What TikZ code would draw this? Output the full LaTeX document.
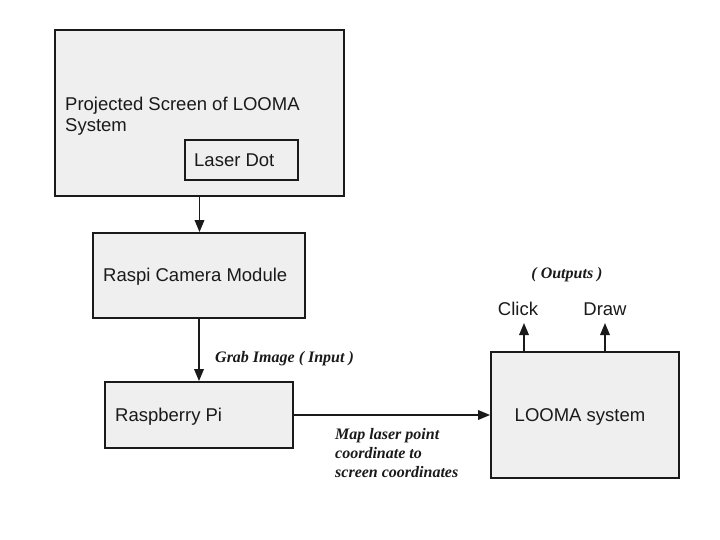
\documentclass[tikz,border=0pt]{standalone}
\usepackage{fontspec}
\setmainfont{Liberation Sans}
\newfontfamily\serifbi{Liberation Serif}
\usetikzlibrary{arrows.meta}
\definecolor{boxfill}{HTML}{EFEFEF}
\definecolor{ink}{HTML}{1A1A1A}
\tikzset{
  box/.style={draw=ink, line width=1.8pt, fill=boxfill, inner sep=0pt},
  lbl/.style={font=\fontsize{18.5}{21.5}\selectfont, inner sep=0pt, align=left, text=ink},
  note/.style={font=\serifbi\bfseries\itshape\fontsize{16}{19}\selectfont, inner sep=0pt, align=left, text=ink},
  conn/.style={line width=1.8pt, draw=ink, -{Triangle[length=12pt,width=9.5pt]}},
}
\begin{document}
\begin{tikzpicture}[x=1pt,y=-1pt]
\useasboundingbox (0,0) rectangle (720,540);
% boxes
\node[box, minimum width=289pt, minimum height=166pt] (screen) at (199.5,113) {};
\node[box, minimum width=113pt, minimum height=40pt] (laser) at (241.5,160) {};
\node[box, minimum width=212pt, minimum height=85pt] (camera) at (199,275.5) {};
\node[box, minimum width=188pt, minimum height=66pt] (pi) at (199,415) {};
\node[box, minimum width=188pt, minimum height=126pt] (looma) at (585,415) {};
% texts
\node[lbl, anchor=north west] (screentxt) at (65,96.5) {Projected Screen of LOOMA\\System};
\node[lbl, anchor=west] (lasertxt) at (194,160) {Laser Dot};
\node[lbl, anchor=west] (cameratxt) at (103,277) {Raspi Camera Module};
\node[lbl, anchor=west] (pitxt) at (115,417) {Raspberry Pi};
\node[lbl] (lloomatxt) at (580,417) {LOOMA system};
\node[lbl] (click) at (518,309) {Click};
\node[lbl] (draw) at (605,309) {Draw};
\node[note] (outputs) at (567,275) {( Outputs )};
\node[note, anchor=west] (grab) at (215,359) {Grab Image ( Input )};
\node[note, anchor=north west] (map) at (335,428) {Map laser point\\coordinate to\\screen coordinates};
% free ends
\coordinate (clickend) at (524,323);
\coordinate (drawend) at (605,323);
% connectors
\draw[conn] (screen.south) -- (screen.south |- camera.north);
\draw[conn] (camera.south) -- (camera.south |- pi.north);
\draw[conn] (pi.east) -- (looma.west);
\draw[conn] (looma.north -| clickend) -- (clickend);
\draw[conn] (looma.north -| drawend) -- (drawend);
\end{tikzpicture}
\end{document}
